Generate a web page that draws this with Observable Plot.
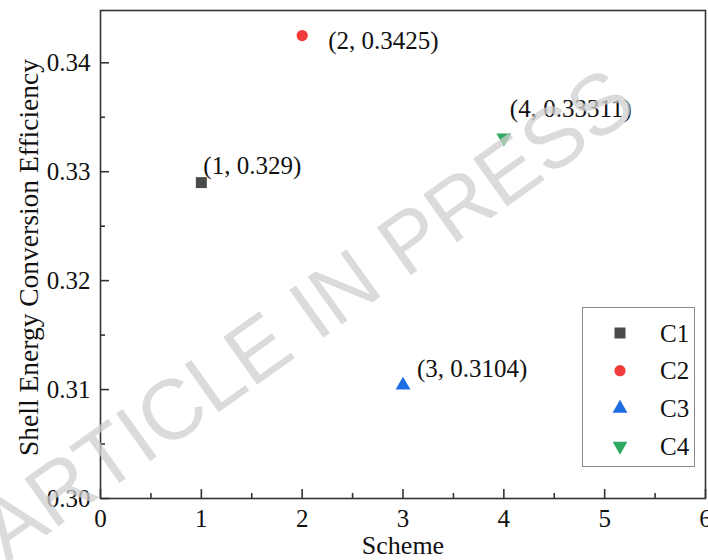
<!DOCTYPE html>
<html><head><meta charset="utf-8">
<script src="https://cdn.jsdelivr.net/npm/d3@7"></script>
<script src="https://cdn.jsdelivr.net/npm/@observablehq/plot@0.6"></script>
<style>
body{margin:0;background:#fff}
#wrap{position:relative;width:708px;height:560px;overflow:hidden}
#legend{position:absolute;left:582px;top:307px}
</style>
</head><body><div id="wrap"></div>
<script>
// ---- data ----
const schemes = [1, 2, 3, 4];
const seriesNames = ["C1", "C2", "C3", "C4"];
const efficiency = [0.329, 0.3425, 0.3104, 0.33311];
const labelTexts = ["(1, 0.329)", "(2, 0.3425)", "(3, 0.3104)", "(4, 0.33311)"];
const xTicks = [0, 1, 2, 3, 4, 5, 6];
const xMinorTicks = [0.5, 1.5, 2.5, 3.5, 4.5, 5.5];
const yTicks = [0.30, 0.31, 0.32, 0.33, 0.34];
const yTickLabels = ["0.30", "0.31", "0.32", "0.33", "0.34"];
const yMinorTicks = [0.305, 0.315, 0.325, 0.335];
const xLabel = "Scheme";
const yLabel = "Shell Energy Conversion Efficiency";
const watermark = "ARTICLE IN PRESS";

// ---- styles ----
const seriesColors = ["#4a4a4a", "#f23c3c", "#1c6de4", "#2ea862"];
const seriesSymbols = ["square", "circle", "triangle", "triangle"];
const seriesRotate = [0, 0, 0, 180];
const seriesR = [6.2, 5.6, 5.5, 5.5];
const labelDx = [2, 26, 14, 6];
const labelDy = [-17, 5, -16, -29];

const rows = schemes.map((s, i) => ({scheme: s, series: seriesNames[i], value: efficiency[i], label: labelTexts[i], i}));

const W = 708, H = 560, ML = 100, MR = 3, MT = 10, MB = 62;
const PW = W - ML - MR, PH = H - MT - MB;
const ink = "#333";
const font = "Liberation Serif";

const chart = Plot.plot({
  width: W, height: H,
  marginLeft: ML, marginRight: MR, marginTop: MT, marginBottom: MB,
  style: {fontFamily: font, background: "#fff", color: "#111"},
  x: {domain: [0, 6]},
  y: {domain: [0.30, 0.3448]},
  marks: [
    Plot.frame({stroke: ink, strokeWidth: 1.6}),
    Plot.tickX(xTicks, {x: d => d, insetTop: PH - 9, stroke: ink, strokeWidth: 1.6}),
    Plot.tickX(xMinorTicks, {x: d => d, insetTop: PH - 5, stroke: ink, strokeWidth: 1.6}),
    Plot.tickY(yTicks, {y: d => d, insetRight: PW - 9, stroke: ink, strokeWidth: 1.6}),
    Plot.tickY(yMinorTicks, {y: d => d, insetRight: PW - 5, stroke: ink, strokeWidth: 1.6}),
    Plot.axisX({ticks: xTicks, tickSize: 0, tickPadding: 11, fontSize: 25, label: null, tickFormat: d => String(d)}),
    Plot.axisY({ticks: yTicks, tickSize: 0, tickPadding: 10, fontSize: 25, label: null, tickFormat: d => yTickLabels[yTicks.indexOf(d)]}),
    Plot.text([xLabel], {frameAnchor: "bottom", dy: 47, lineAnchor: "middle", textAnchor: "middle", fontSize: 26, fill: "#111"}),
    Plot.text([yLabel], {frameAnchor: "left", dx: -71, dy: 3, rotate: -90, lineAnchor: "middle", textAnchor: "middle", fontSize: 27.5, fill: "#111"}),
    ...rows.map(r => Plot.dot([r], {
      x: "scheme", y: "value", symbol: () => seriesSymbols[r.i], r: seriesR[r.i],
      rotate: seriesRotate[r.i], fill: seriesColors[r.i], stroke: "none"
    })),
    ...rows.map(r => Plot.text([r], {
      x: "scheme", y: "value", text: "label", textAnchor: "start", lineAnchor: "middle",
      dx: labelDx[r.i], dy: labelDy[r.i], fontSize: 25, fill: "#111"
    })),
    Plot.text([watermark], {
      frameAnchor: "middle", dx: 307 - (ML + PW / 2), dy: 315 - (MT + PH / 2),
      rotate: -35.5, lineAnchor: "middle", textAnchor: "middle",
      fontSize: 85, fontFamily: "Liberation Sans", fill: "#cfcfcf", fillOpacity: 0.75
    })
  ]
});

const wrap = document.getElementById("wrap");
wrap.appendChild(chart);

// legend built from the series arrays
const lg = d3.select(wrap).append("svg").attr("id", "legend").attr("width", 113).attr("height", 160)
  .style("font-family", font);
lg.append("rect").attr("x", 0.5).attr("y", 0.5).attr("width", 112).attr("height", 159)
  .attr("fill", "#fff").attr("stroke", "#8a8a8a").attr("stroke-width", 1);
const symMap = {square: d3.symbolSquare, circle: d3.symbolCircle, triangle: d3.symbolTriangle};
seriesNames.forEach((name, i) => {
  const cy = 26 + i * 37.7;
  const r = seriesR[i];
  lg.append("path")
    .attr("d", d3.symbol(symMap[seriesSymbols[i]], Math.PI * r * r)())
    .attr("transform", `translate(38,${cy}) rotate(${seriesRotate[i]})`)
    .attr("fill", seriesColors[i]);
  lg.append("text").attr("x", 78).attr("y", cy).attr("dy", "0.35em")
    .attr("font-size", 25).attr("fill", "#111").text(name);
});
</script>
</body></html>
